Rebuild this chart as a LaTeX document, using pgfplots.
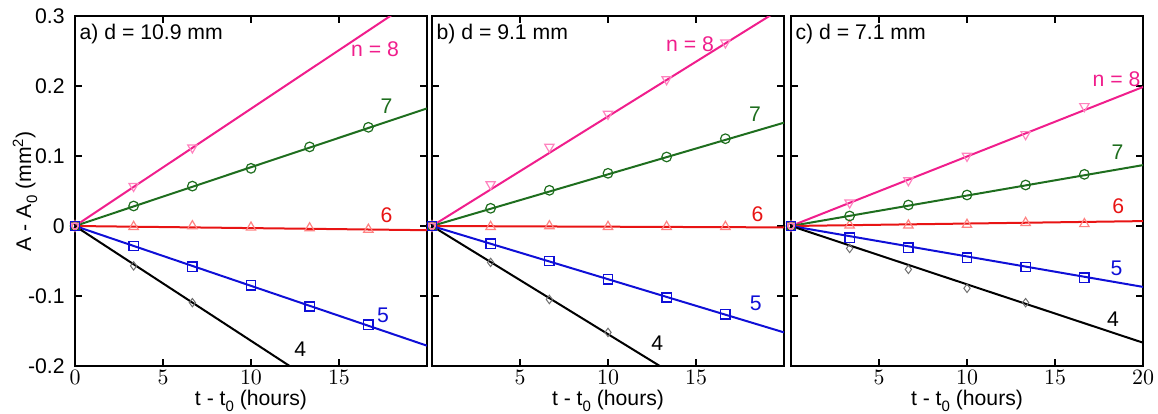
\documentclass[border=0pt]{standalone}
\usepackage{fontspec}
\setmainfont{Liberation Sans}
\usepackage{pgfplots}
\pgfplotsset{compat=1.18}
\definecolor{cpink}{RGB}{240,30,140}
\definecolor{cpinkm}{RGB}{255,130,190}
\definecolor{cgreen}{RGB}{30,110,30}
\definecolor{cred}{RGB}{232,20,20}
\definecolor{credm}{RGB}{255,130,130}
\definecolor{cblue}{RGB}{15,15,215}
\definecolor{cgray}{RGB}{110,110,110}
\newcommand{\sub}[1]{\raisebox{-0.55ex}{\fontsize{7.5}{7.5}\selectfont #1}}

\pgfplotsset{
  panel/.style={
    scale only axis, width=176pt, height=175pt,
    anchor=south west,
    xmin=0, xmax=20, ymin=-0.2, ymax=0.3,
    axis line style={line width=1.3pt},
    tick align=inside, major tick length=3.3pt,
    every tick/.style={black, line width=1.2pt},
    font=\fontsize{10.6}{12}\selectfont,
    ytick={-0.2,-0.1,0,0.1,0.2,0.3},
    xticklabel style={anchor=north, inner sep=0pt, yshift=-2pt},
    yticklabel style={anchor=east, inner sep=0pt, xshift=-5pt},
    xlabel={t - t\sub{0} (hours)},
    xlabel style={at={(axis description cs:0.5,-0.099)}, anchor=center},
    clip mode=individual,
  },
  fitline/.style={line width=1pt, no marks},
  m8/.style={only marks, mark=triangle, mark size=2.7pt, mark options={rotate=180, cpinkm, line width=0.6pt}},
  m7/.style={only marks, mark=o, mark size=2.4pt, mark options={cgreen, line width=0.6pt}},
  m6/.style={only marks, mark=triangle, mark size=2.7pt, mark options={credm, line width=0.6pt}},
  m5/.style={only marks, mark=square, mark size=2.3pt, mark options={cblue, line width=0.7pt}},
  m4/.style={only marks, mark=diamond, mark size=2.1pt, mark options={cgray, line width=0.5pt}},
}

\begin{document}
\begin{tikzpicture}
\path[use as bounding box] (0,0) rectangle (579pt,206.5pt);

% panel a
\begin{axis}[panel, at={(37.5pt,23.5pt)},
  xtick={0,5,10,15},
  yticklabels={-0.2,-0.1,0,0.1,0.2,0.3},
  ylabel={A - A\sub{0} (mm\textsuperscript{2})},
  ylabel style={at={(axis description cs:-0.142,0.5)}, anchor=center},
]
\addplot[fitline, cpink] coordinates {(0,0) (20,0.335)};
\addplot[fitline, cgreen] coordinates {(0,0) (20,0.168)};
\addplot[fitline, cred] coordinates {(0,0) (20,-0.006)};
\addplot[fitline, cblue] coordinates {(0,0) (20,-0.171)};
\addplot[fitline, black] coordinates {(0,0) (20,-0.328)};
\addplot[m4] coordinates {(0,0) (3.33,-0.057) (6.67,-0.1095)};
\addplot[m6] coordinates {(0,0) (3.33,-0.001) (6.67,0.0) (10,-0.002) (13.33,-0.003) (16.67,-0.005)};
\addplot[m7] coordinates {(0,0) (3.33,0.0286) (6.67,0.057) (10,0.0824) (13.33,0.113) (16.67,0.141)};
\addplot[m8] coordinates {(0,0) (3.33,0.057) (6.67,0.112)};
\addplot[m5] coordinates {(0,0) (3.33,-0.0286) (6.67,-0.058) (10,-0.0847) (13.33,-0.115) (16.67,-0.141)};
\node[text=cpink] at (axis cs:17.05,0.253) {n = 8};
\node[text=cgreen] at (axis cs:17.7,0.171) {7};
\node[text=cred] at (axis cs:17.7,0.016) {6};
\node[text=cblue] at (axis cs:17.5,-0.127) {5};
\node[text=black] at (axis cs:12.8,-0.176) {4};
\node[anchor=west, inner sep=0pt] at (axis description cs:0.012,0.949) {a) d = 10.9 mm};
\end{axis}

% panel b
\begin{axis}[panel, at={(216pt,23.5pt)},
  xtick={5,10,15},
  yticklabels={},
]
\addplot[fitline, cpink] coordinates {(0,0) (20,0.313)};
\addplot[fitline, cgreen] coordinates {(0,0) (20,0.1476)};
\addplot[fitline, cred] coordinates {(0,0) (20,-0.002)};
\addplot[fitline, cblue] coordinates {(0,0) (20,-0.152)};
\addplot[fitline, black] coordinates {(0,0) (20,-0.309)};
\addplot[m4] coordinates {(0,0) (3.33,-0.052) (6.67,-0.105) (10,-0.152)};
\addplot[m6] coordinates {(0,0) (3.33,-0.001) (6.67,0.0) (10,-0.001) (13.33,-0.001) (16.67,-0.001)};
\addplot[m7] coordinates {(0,0) (3.33,0.0253) (6.67,0.051) (10,0.0753) (13.33,0.0986) (16.67,0.1247)};
\addplot[m8] coordinates {(0,0) (3.33,0.0595) (6.67,0.113) (10,0.160) (13.33,0.2095) (16.67,0.262)};
\addplot[m5] coordinates {(0,0) (3.33,-0.0253) (6.67,-0.05) (10,-0.076) (13.33,-0.102) (16.67,-0.126)};
\node[text=cpink] at (axis cs:14.66,0.26) {n = 8};
\node[text=cgreen] at (axis cs:18.35,0.16) {7};
\node[text=cred] at (axis cs:18.5,0.017) {6};
\node[text=cblue] at (axis cs:18.4,-0.111) {5};
\node[text=black] at (axis cs:12.8,-0.167) {4};
\node[anchor=west, inner sep=0pt] at (axis description cs:0.012,0.949) {b) d = 9.1 mm};
\end{axis}

% panel c
\begin{axis}[panel, at={(395.5pt,23.5pt)},
  xtick={5,10,15,20},
  yticklabels={},
]
\addplot[fitline, cpink] coordinates {(0,0) (20,0.1986)};
\addplot[fitline, cgreen] coordinates {(0,0) (20,0.087)};
\addplot[fitline, cred] coordinates {(0,0) (20,0.007)};
\addplot[fitline, cblue] coordinates {(0,0) (20,-0.087)};
\addplot[fitline, black] coordinates {(0,0) (20,-0.1667)};
\addplot[m4] coordinates {(0,0) (3.33,-0.032) (6.67,-0.062) (10,-0.089) (13.33,-0.1095)};
\addplot[m6] coordinates {(0,0) (3.33,0.001) (6.67,0.001) (10,0.002) (13.33,0.0047) (16.67,0.003)};
\addplot[m7] coordinates {(0,0) (3.33,0.0143) (6.67,0.03) (10,0.0443) (13.33,0.0586) (16.67,0.0738)};
\addplot[m8] coordinates {(0,0) (3.33,0.0333) (6.67,0.0652) (10,0.1) (13.33,0.131) (16.67,0.171)};
\addplot[m5] coordinates {(0,0) (3.33,-0.0167) (6.67,-0.031) (10,-0.0452) (13.33,-0.0586) (16.67,-0.0738)};
\node[text=cpink] at (axis cs:18.5,0.21) {n = 8};
\node[text=cgreen] at (axis cs:18.55,0.106) {7};
\node[text=cred] at (axis cs:18.6,0.0286) {6};
\node[text=cblue] at (axis cs:18.5,-0.06) {5};
\node[text=black] at (axis cs:18.3,-0.133) {4};
\node[anchor=west, inner sep=0pt] at (axis description cs:0.012,0.949) {c) d = 7.1 mm};
\end{axis}
\end{tikzpicture}
\end{document}
